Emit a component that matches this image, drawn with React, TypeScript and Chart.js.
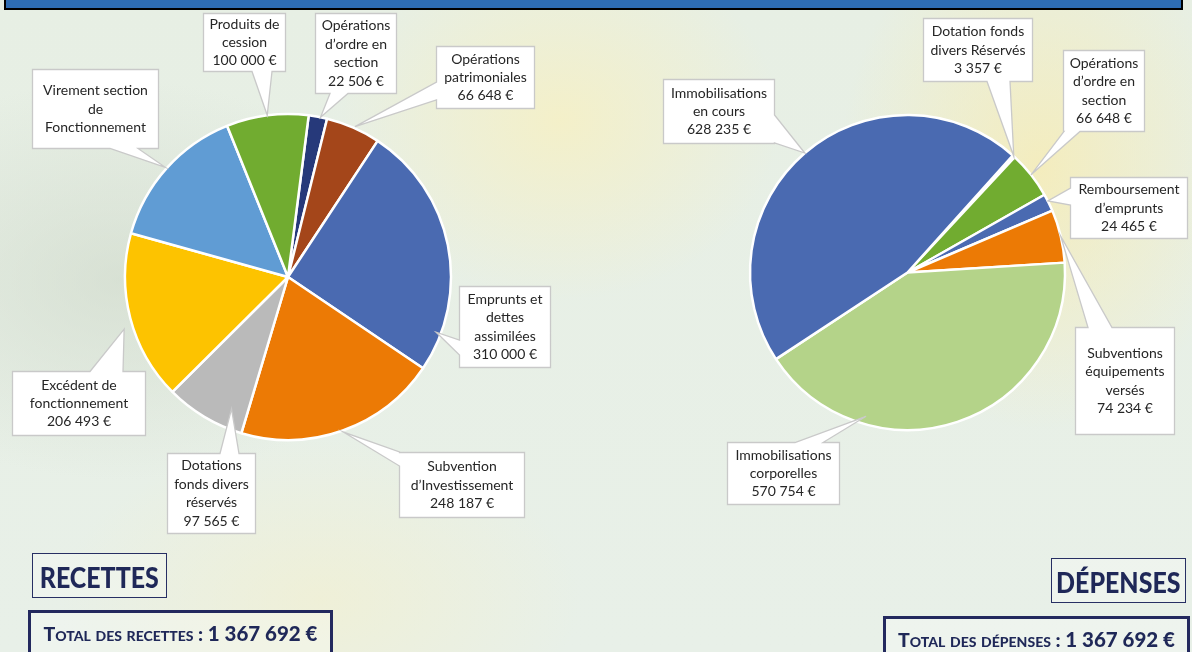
import React, { useEffect, useRef } from "react";
import { Chart, registerables } from "chart.js";

Chart.register(...registerables);

// ---------- DATA ----------
const recettesLabels = [
  "Opérations\nd’ordre en\nsection",
  "Opérations\npatrimoniales",
  "Emprunts et\ndettes\nassimilées",
  "Subvention\nd’Investissement",
  "Dotations\nfonds divers\nréservés",
  "Excédent de\nfonctionnement",
  "Virement section\nde\nFonctionnement",
  "Produits de\ncession",
];
const recettesValues = [22506, 66648, 310000, 248187, 97565, 206493, 179500, 100000];
const recettesShowValue = [true, true, true, true, true, true, false, true];
const recettesColors = ["#26397A", "#A4461A", "#4A6AB1", "#EC7A05", "#BABABA", "#FDC300", "#609CD4", "#71AC30"];

const depensesLabels = [
  "Dotation fonds\ndivers Réservés",
  "Opérations\nd’ordre en\nsection",
  "Remboursement\nd’emprunts",
  "Subventions\néquipements\nversés",
  "Immobilisations\ncorporelles",
  "Immobilisations\nen cours",
];
const depensesValues = [3357, 66648, 24465, 74234, 570754, 628235];
const depensesShowValue = [true, true, true, true, true, true];
const depensesColors = ["#A5A5A5", "#71AC30", "#4A6AB1", "#EC7A05", "#B4D389", "#4A6AB1"];

const recettesTitle = "RECETTES";
const depensesTitle = "DÉPENSES";
const recettesTotalLabel = "Total des recettes : ";
const depensesTotalLabel = "Total des dépenses : ";
const recettesTotal = "1 367 692 €";
const depensesTotal = "1 367 692 €";

// ---------- LAYOUT (callout boxes, page coordinates) ----------
type Callout = { box: number[]; edge: "top" | "bottom" | "left" | "right"; base: number[]; t: number; rf: number };

const recettesCallouts: Callout[] = [
  { box: [315, 13, 81, 80], edge: "bottom", base: [330, 348], t: 0.64, rf: 1 },
  { box: [436, 46, 98, 62], edge: "left", base: [82, 100], t: 0.52, rf: 1.01 },
  { box: [459, 286, 91, 81], edge: "left", base: [340, 355], t: 0.85, rf: 0.97 },
  { box: [399, 452, 125, 65], edge: "left", base: [452, 466], t: 0.5, rf: 1.01 },
  { box: [167, 453, 88, 80], edge: "top", base: [220, 239], t: 0.23, rf: 0.88 },
  { box: [12, 371, 133, 64], edge: "top", base: [90, 123], t: 0.45, rf: 1.055 },
  { box: [32, 69, 126, 79], edge: "bottom", base: [110, 138], t: 0.5, rf: 1.01 },
  { box: [203, 13, 82, 58], edge: "bottom", base: [252, 272], t: 0.5, rf: 1 },
];

const depensesCallouts: Callout[] = [
  { box: [923, 18, 109, 63], edge: "bottom", base: [987, 1010], t: 0.5, rf: 1.0 },
  { box: [1063, 50, 81, 81], edge: "bottom", base: [1064, 1080], t: 0.5, rf: 1.0 },
  { box: [1070, 177, 117, 61], edge: "left", base: [188, 205], t: 0.4, rf: 1.0 },
  { box: [1075, 327, 99, 107], edge: "top", base: [1088, 1112], t: 0.5, rf: 1.0 },
  { box: [727, 442, 112, 62], edge: "top", base: [795, 823], t: 0.73, rf: 0.95 },
  { box: [663, 79, 111, 64], edge: "right", base: [115, 143], t: 0.5, rf: 1.0 },
];

const W = 1192;
const H = 652;
const HALF = 596;
const FONT = "Lato, 'Open Sans', sans-serif";

function fmt(v: number) {
  return String(v).replace(/\B(?=(\d{3})+(?!\d))/g, " ") + " €";
}

function makeCallouts(labels: string[], values: number[], show: boolean[], items: Callout[], offsetX: number) {
  return {
    id: "callouts" + offsetX,
    afterDatasetsDraw(chart: any) {
      const ctx: CanvasRenderingContext2D = chart.ctx;
      const meta = chart.getDatasetMeta(0);
      items.forEach((it, i) => {
        const arc = meta.data[i];
        if (!arc) return;
        const p = arc.getProps(["x", "y", "startAngle", "endAngle", "outerRadius"], true);
        const a = p.startAngle + (p.endAngle - p.startAngle) * it.t;
        const r = p.outerRadius * it.rf;
        const tx = p.x + Math.cos(a) * r;
        const ty = p.y + Math.sin(a) * r;
        const x = Math.round(it.box[0] - offsetX) + 0.5;
        const y = Math.round(it.box[1]) + 0.5;
        const w = it.box[2];
        const h = it.box[3];
        let b1 = it.base[0];
        let b2 = it.base[1];
        if (it.edge === "top" || it.edge === "bottom") {
          b1 -= offsetX;
          b2 -= offsetX;
        }
        ctx.save();
        ctx.beginPath();
        if (it.edge === "top") {
          ctx.moveTo(x, y);
          ctx.lineTo(b1, y);
          ctx.lineTo(tx, ty);
          ctx.lineTo(b2, y);
          ctx.lineTo(x + w, y);
          ctx.lineTo(x + w, y + h);
          ctx.lineTo(x, y + h);
        } else if (it.edge === "bottom") {
          ctx.moveTo(x, y);
          ctx.lineTo(x + w, y);
          ctx.lineTo(x + w, y + h);
          ctx.lineTo(b2, y + h);
          ctx.lineTo(tx, ty);
          ctx.lineTo(b1, y + h);
          ctx.lineTo(x, y + h);
        } else if (it.edge === "left") {
          ctx.moveTo(x, y);
          ctx.lineTo(x + w, y);
          ctx.lineTo(x + w, y + h);
          ctx.lineTo(x, y + h);
          ctx.lineTo(x, b2);
          ctx.lineTo(tx, ty);
          ctx.lineTo(x, b1);
        } else {
          ctx.moveTo(x, y);
          ctx.lineTo(x + w, y);
          ctx.lineTo(x + w, b1);
          ctx.lineTo(tx, ty);
          ctx.lineTo(x + w, b2);
          ctx.lineTo(x + w, y + h);
          ctx.lineTo(x, y + h);
        }
        ctx.closePath();
        ctx.fillStyle = "#FFFFFF";
        ctx.fill();
        ctx.strokeStyle = "#C9C9C9";
        ctx.lineWidth = 1.3;
        ctx.stroke();

        const lines = labels[i].split("\n");
        if (show[i]) lines.push(fmt(values[i]));
        const lh = 18.4;
        ctx.fillStyle = "#262626";
        ctx.font = "14px " + FONT;
        ctx.textAlign = "center";
        ctx.textBaseline = "middle";
        const cx = x + w / 2;
        const cy = y + h / 2;
        const start = cy - ((lines.length - 1) * lh) / 2;
        lines.forEach((ln, k) => ctx.fillText(ln, cx, start + k * lh));
        ctx.restore();
      });
    },
  };
}

function makePie(canvas: HTMLCanvasElement, labels: string[], values: number[], colors: string[], rotation: number, radius: number, padding: any, plugin: any) {
  return new Chart(canvas, {
    type: "pie",
    data: {
      labels,
      datasets: [
        {
          data: values,
          backgroundColor: colors,
          borderColor: "#FFFFFF",
          borderWidth: 2.5,
          radius,
        } as any,
      ],
    },
    options: {
      responsive: false,
      maintainAspectRatio: false,
      animation: false,
      rotation,
      radius,
      layout: { padding },
      plugins: { legend: { display: false }, tooltip: { enabled: false } },
    } as any,
    plugins: [plugin],
  });
}

function TitleBox({ left, top, width, height, text }: any) {
  return (
    <div
      style={{
        position: "absolute",
        left,
        top,
        width,
        height,
        boxSizing: "border-box",
        border: "1.5px solid #272F63",
        background: "rgba(255,255,255,0.25)",
        display: "flex",
        alignItems: "center",
        justifyContent: "center",
        overflow: "hidden",
      }}
    >
      <span
        style={{
          display: "inline-block",
          fontFamily: FONT,
          fontWeight: 900,
          fontSize: 29,
          color: "#1F2858",
          transform: "scaleX(0.86)",
          whiteSpace: "nowrap",
          lineHeight: 1,
          marginTop: 2,
        }}
      >
        {text}
      </span>
    </div>
  );
}

function TotalBox({ left, top, width, label, total }: any) {
  return (
    <div
      style={{
        position: "absolute",
        left,
        top,
        width,
        height: 60,
        boxSizing: "border-box",
        border: "3px solid #23295E",
        background: "rgba(255,255,255,0.25)",
        textAlign: "center",
        paddingTop: 8,
        whiteSpace: "nowrap",
        lineHeight: 1.2,
      }}
    >
      <span
        style={{
          fontFamily: FONT,
          fontWeight: 900,
          color: "#1F2858",
          fontSize: 19.5,
          fontVariant: "small-caps",
          display: "inline-block",
        }}
      >
        {label}
        <span style={{ fontSize: 20.5, fontVariant: "normal" }}>{total}</span>
      </span>
    </div>
  );
}

export default function App() {
  const leftRef = useRef<HTMLCanvasElement>(null);
  const rightRef = useRef<HTMLCanvasElement>(null);

  useEffect(() => {
    const c1 = makePie(
      leftRef.current!,
      recettesLabels,
      recettesValues,
      recettesColors,
      7.3,
      163,
      { left: 125, right: 145, top: 114, bottom: 212 },
      makeCallouts(recettesLabels, recettesValues, recettesShowValue, recettesCallouts, 0)
    );
    const c2 = makePie(
      rightRef.current!,
      depensesLabels,
      depensesValues,
      depensesColors,
      42,
      157.5,
      { left: 154, right: 127, top: 115, bottom: 222 },
      makeCallouts(depensesLabels, depensesValues, depensesShowValue, depensesCallouts, HALF)
    );
    return () => {
      c1.destroy();
      c2.destroy();
    };
  }, []);

  return (
    <div
      style={{
        position: "fixed",
        left: 0,
        top: 0,
        width: W,
        height: H,
        overflow: "hidden",
        background:
          "radial-gradient(ellipse 220px 180px at 560px 120px, rgba(246,240,196,0.85), rgba(246,240,196,0)), " +
          "radial-gradient(ellipse 200px 260px at 1040px 170px, rgba(247,236,180,0.8), rgba(247,236,180,0)), " +
          "radial-gradient(ellipse 260px 160px at 320px 600px, rgba(244,240,205,0.6), rgba(244,240,205,0)), " +
          "radial-gradient(ellipse 300px 200px at 120px 280px, rgba(205,215,200,0.6), rgba(205,215,200,0)), " +
          "linear-gradient(180deg, #E7EFE4 0%, #E8F0E8 100%)",
      }}
    >
      <div
        style={{
          position: "absolute",
          left: 4,
          top: -4,
          width: 1179,
          height: 14,
          boxSizing: "border-box",
          background: "#2E6DB4",
          border: "2.5px solid #000",
        }}
      />
      <canvas ref={leftRef} width={HALF} height={H} style={{ position: "absolute", left: 0, top: 0 }} />
      <canvas ref={rightRef} width={HALF} height={H} style={{ position: "absolute", left: HALF, top: 0 }} />
      <TitleBox left={32} top={553} width={135} height={45} text={recettesTitle} />
      <TotalBox left={28} top={610} width={305} label={recettesTotalLabel} total={recettesTotal} />
      <TitleBox left={1051} top={558} width={135} height={45} text={depensesTitle} />
      <TotalBox left={883} top={616} width={307} label={depensesTotalLabel} total={depensesTotal} />
    </div>
  );
}
